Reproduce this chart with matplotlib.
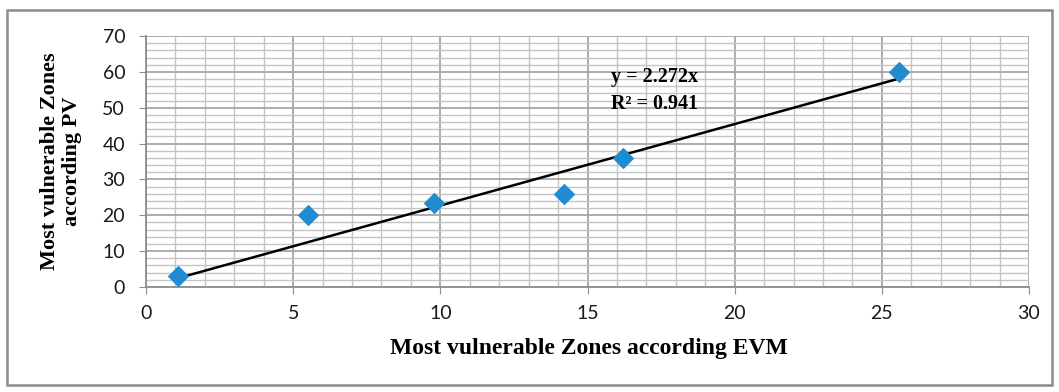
import matplotlib
matplotlib.use('Agg')
import matplotlib.pyplot as plt
from matplotlib.patches import Rectangle
import numpy as np

# data
evm = [1.1, 5.5, 9.8, 14.2, 16.2, 25.6]
pv = [3, 20, 23.5, 26, 36, 60]
slope = 2.272
r2 = 0.941

x_label = "Most vulnerable Zones according EVM"
y_label = "Most vulnerable Zones\naccording PV"

fig = plt.figure(figsize=(10.59, 3.92), dpi=100)
W, H = 1059, 392

# outer chart border (Excel style)
fig.patches.append(Rectangle((7 / W, 1 - 385 / H), (1052 - 7) / W, (385 - 10) / H,
                             transform=fig.transFigure, fill=False,
                             edgecolor='#8c8c8c', linewidth=1.8))

ax = fig.add_axes([146 / W, 1 - 287 / H, (1029 - 146) / W, (287 - 36) / H])
ax.set_xlim(0, 30)
ax.set_ylim(0, 70)
ax.set_xticks(np.arange(0, 31, 5))
ax.set_yticks(np.arange(0, 71, 10))
ax.set_xticks(np.arange(0, 31, 1), minor=True)
ax.set_yticks(np.arange(0, 71, 2), minor=True)

ax.grid(which='major', color='#a6a6a6', linewidth=1.3, zorder=0)
ax.grid(which='minor', color='#c4c4c4', linewidth=1.0, zorder=0)
ax.set_axisbelow(True)

for s in ax.spines.values():
    s.set_visible(False)
ax.spines['left'].set_visible(True)
ax.spines['bottom'].set_visible(True)
ax.spines['left'].set_color('#8c8c8c')
ax.spines['bottom'].set_color('#8c8c8c')
ax.spines['left'].set_linewidth(1.3)
ax.spines['bottom'].set_linewidth(1.3)

ax.tick_params(which='major', direction='out', length=5, color='#8c8c8c',
               labelsize=14, labelcolor='#1a1a1a')
ax.tick_params(axis='x', pad=8)
ax.tick_params(axis='y', pad=10)
ax.tick_params(which='minor', length=0)
for lab in ax.get_xticklabels() + ax.get_yticklabels():
    lab.set_fontfamily('Lato')

# trend line through origin
xt = np.array([min(evm), max(evm)])
ax.plot(xt, slope * xt, color='black', linewidth=1.8, zorder=3)

ax.scatter(evm, pv, marker='D', s=120, color='#1f8bd0', zorder=4, linewidths=0)

ax.text(15.8, 58.5, f"y = {slope}x", fontfamily='Liberation Serif',
        fontweight='bold', fontsize=14.5, va='center', zorder=5)
ax.text(15.8, 51, f"R² = {r2}", fontfamily='Liberation Serif',
        fontweight='bold', fontsize=14.5, va='center', zorder=5)

ax.set_xlabel(x_label, fontfamily='Liberation Serif', fontweight='bold',
              fontsize=17)
ax.xaxis.set_label_coords(0.501, -0.205)
ax.set_ylabel(y_label, fontfamily='Liberation Serif', fontweight='bold',
              fontsize=16, linespacing=1.15)
ax.yaxis.set_label_coords(-0.072, 0.5)

fig.savefig('out.png', dpi=100)
